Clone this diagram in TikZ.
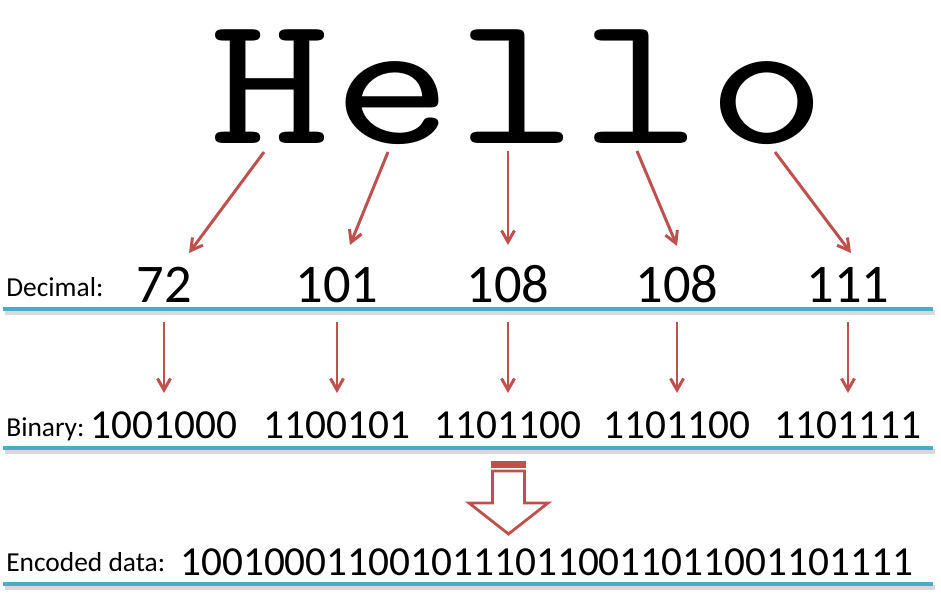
\documentclass[tikz,border=0pt]{standalone}
\usepackage{fontspec}
\setmainfont{Carlito}
\newfontfamily\hellofont{lmmono10-regular.otf}[FakeStretch=1.22]
\usepackage{tikz}
\usetikzlibrary{positioning,calc,arrows.meta}
\definecolor{arrowred}{HTML}{C0504D}
\definecolor{ruleblue}{HTML}{4BACC6}
\tikzset{
  conn/.style={arrowred, line width=1.7pt, -{Straight Barb[length=2.3mm,width=2.6mm]}},
  rule/.style={ruleblue, line width=2.3pt},
  ruleshadow/.style={black!15, line width=2.6pt},
  letter/.style={anchor=base, inner sep=0pt, font=\hellofont\fontsize{106}{106}\selectfont},
  decnum/.style={anchor=base, inner sep=0pt, font=\fontsize{31}{31}\selectfont},
  binnum/.style={anchor=base, inner sep=0pt, font=\fontsize{23.5}{23.5}\selectfont},
  rowlabel/.style={anchor=base west, inner sep=0pt, font=\fontsize{15.6}{15.6}\selectfont},
}
\begin{document}
\begin{tikzpicture}[x=0.02cm,y=-0.02cm]
    \useasboundingbox (0,0) rectangle (941,600);
    % the word
    \foreach \ch/\x/\n in {H/270/1,e/393/2,l/517/3,l/641/4,o/767/5}
        \node[letter] (let\n) at (\x,143) {\ch};
    % rows of numbers
    \foreach \v/\x/\n in {72/164/1,101/337/2,108/508/3,108/677/4,111/848/5} {
        \node[decnum] (dec\n) at (\x,302) {\v};
    }
    \foreach \v/\x/\n in {1001000/164/1,1100101/337/2,1101100/508/3,1101100/677/4,1101111/848/5} {
        \node[binnum] (bin\n) at (\x,438) {\v};
    }
    \node[rowlabel] (lbldec) at (6,296) {Decimal:};
    \node[rowlabel] (lblbin) at (6,436) {Binary:};
    \node[rowlabel] (lblenc) at (6,571) {Encoded data:};
    \node[binnum] (enc) at (546.5,575) {10010001100101110110011011001101111};
    % rules
    \foreach \y in {309,448,584} {
        \draw[ruleshadow] (5,\y+3.5) -- (935,\y+3.5);
        \draw[rule] (3,\y) -- (933,\y);
    }
    % letters to decimals
    \draw[conn] ($(let1.base)+(-6,9)$) -- ($(dec1.base)+(25,-49)$);
    \draw[conn] ($(let2.base)+(-5,9)$) -- ($(dec2.base)+(13,-57)$);
    \draw[conn] ($(let3.base)+(-9,8)$) -- ($(dec3.base)+(0,-57)$);
    \draw[conn] ($(let4.base)+(-4,8)$) -- ($(dec4.base)+(0,-56)$);
    \draw[conn] ($(let5.base)+(8,9)$) -- ($(dec5.base)+(3,-49)$);
    % decimals to binary
    \foreach \n in {1,...,5}
        \draw[conn] ($(dec\n.base)+(0,20)$) -- ($(bin\n.base)+(0,-45)$);
    % striped block arrow
    \begin{scope}[shift={(508.5,461)}]
        \fill[arrowred] (-17.5,0) rectangle (17.5,6.5);
        \draw[arrowred, line width=1.6pt, fill=white] (-16,10) -- (16,10) -- (16,42)
            -- (39.5,42) -- (0,73) -- (-39.5,42) -- (-16,42) -- cycle;
    \end{scope}
\end{tikzpicture}
\end{document}
